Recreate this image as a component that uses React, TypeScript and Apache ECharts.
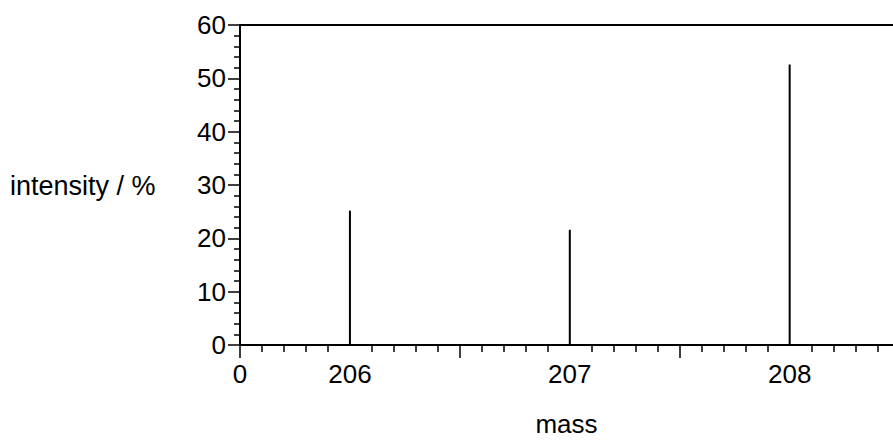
import React, { useEffect, useRef } from "react";
import * as echarts from "echarts";

const masses = [206, 207, 208];
const intensities = [25.2, 21.6, 52.6];
const yTicks = [0, 10, 20, 30, 40, 50, 60];
const xLabelValues = [205.5, 206, 207, 208];
const xLongTicks = [205.5, 206.5, 207.5];

const FONT = "'Liberation Sans', Arial, Helvetica, sans-serif";

export default function App() {
  const ref = useRef<HTMLDivElement>(null);
  useEffect(() => {
    if (!ref.current) return;
    const chart = echarts.init(ref.current, null, { renderer: "svg" });
    chart.setOption({
      animation: false,
      backgroundColor: "#ffffff",
      grid: { left: 240, top: 25, right: 0, bottom: 86, containLabel: false },
      graphic: [
        {
          type: "text",
          left: 10,
          top: 172,
          style: { text: "intensity / %", font: `27px ${FONT}`, fill: "#000" },
        },
      ],
      xAxis: [
        {
          type: "value",
          min: 205.5,
          max: 208.47,
          interval: 0.5,
          name: "mass",
          nameLocation: "middle",
          nameGap: 66,
          nameTextStyle: { fontSize: 26, fontFamily: FONT, color: "#000" },
          axisLine: { show: true, onZero: false, lineStyle: { color: "#000", width: 2 } },
          axisTick: { show: true, customValues: xLongTicks, length: 13, lineStyle: { color: "#000", width: 1.5 } },
          minorTick: { show: true, splitNumber: 5, length: 7, lineStyle: { color: "#000", width: 1.5 } },
          splitLine: { show: false },
          axisLabel: {
            customValues: xLabelValues,
            margin: 16,
            fontSize: 26,
            fontFamily: FONT,
            color: "#000",
            formatter: (v: number) => (Math.abs(v - 205.5) < 1e-6 ? "0" : String(Math.round(v))),
          },
        },
        {
          type: "value",
          position: "top",
          min: 205.5,
          max: 208.47,
          axisLine: { show: true, onZero: false, lineStyle: { color: "#000", width: 2 } },
          axisTick: { show: false },
          axisLabel: { show: false },
          splitLine: { show: false },
        },
      ],
      yAxis: {
        type: "value",
        min: yTicks[0],
        max: yTicks[yTicks.length - 1],
        interval: 10,
        axisLine: { show: true, lineStyle: { color: "#000", width: 2 } },
        axisTick: { show: true, length: 12, lineStyle: { color: "#000", width: 1.5 } },
        minorTick: { show: true, splitNumber: 5, length: 6, lineStyle: { color: "#000", width: 1.5 } },
        splitLine: { show: false },
        axisLabel: { margin: 14, fontSize: 26, fontFamily: FONT, color: "#000" },
      },
      series: [
        {
          type: "bar",
          xAxisIndex: 0,
          barWidth: 2,
          itemStyle: { color: "#000" },
          data: masses.map((m, i) => [m, intensities[i]]),
        },
      ],
    });
    return () => chart.dispose();
  }, []);
  return (
    <div
      ref={ref}
      style={{ position: "fixed", left: 0, top: 0, width: 893, height: 442 }}
    />
  );
}
